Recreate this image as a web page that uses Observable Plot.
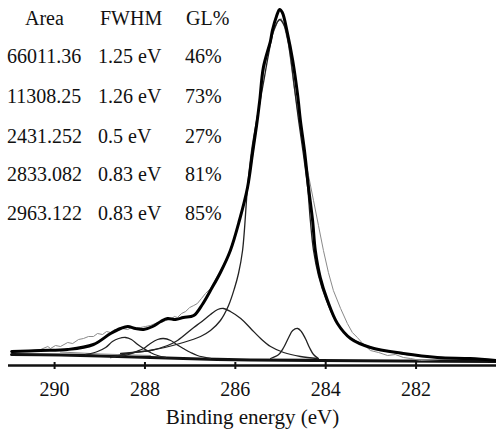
<!DOCTYPE html>
<html><head><meta charset="utf-8">
<script src="https://cdn.jsdelivr.net/npm/d3@7"></script>
<script src="https://cdn.jsdelivr.net/npm/@observablehq/plot@0.6"></script>
<style>
body{margin:0;background:#fff;}
#wrap{position:relative;width:496px;height:431px;font-family:"Liberation Serif","DejaVu Serif",serif;}
.cell{position:absolute;font-size:20px;line-height:20px;white-space:nowrap;color:#111;}
#wrap svg text{font-family:"Liberation Serif","DejaVu Serif",serif;}
</style></head><body><div id="wrap"></div>
<script>
// ---- table (fit parameters) ----
const tableHeader = ["Area", "FWHM", "GL%"];
const areas = ["66011.36", "11308.25", "2431.252", "2833.082", "2963.122"];
const fwhm = ["1.25 eV", "1.26 eV", "0.5 eV", "0.83 eV", "0.83 eV"];
const gl = ["46%", "73%", "27%", "81%", "85%"];

// ---- axis ----
const xTicks = [290, 288, 286, 284, 282];
const xLabel = "Binding energy (eV)";

// ---- series: [binding energy (eV), intensity (a.u.)] ----
const measured = [[290.95,13],[290.31,16],[290.15,19],[290.09,17],[289.98,20],[289.87,19],[289.71,23],[289.60,22],[289.47,26],[289.36,27],[289.25,29],[289.14,29],[289.05,32],[288.94,31],[288.85,34],[288.76,33],[288.67,36],[288.58,35],[288.50,37],[288.38,36],[288.30,38],[288.21,37],[288.10,38],[287.99,39],[287.88,40],[287.77,42],[287.65,43],[287.54,45],[287.43,46],[287.35,49],[287.28,48],[287.19,52],[287.10,54],[287.01,58],[286.92,60],[286.84,62],[286.75,67],[286.66,72],[286.55,77],[286.33,95],[286.11,114],[285.91,144],[285.73,176],[285.62,208],[285.53,238],[285.46,262],[285.38,292],[285.27,318],[285.15,334],[285.07,343],[284.99,347],[284.93,342],[284.82,320],[284.71,282],[284.60,248],[284.49,215],[284.38,190],[284.27,165],[284.16,140],[284.05,115],[283.94,93],[283.83,75],[283.67,57],[283.52,42],[283.41,33],[283.30,28],[283.16,21],[283.01,15],[282.83,13],[282.63,10],[282.46,11],[282.28,8],[282.12,7],[281.90,5],[281.46,6],[280.86,7]];

const envelope = [[290.95,14],[290.31,15],[289.71,16],[289.14,21],[288.76,32],[288.54,37],[288.38,39],[288.21,37],[288.03,36],[287.83,39],[287.65,44],[287.50,47],[287.32,46],[287.15,48],[286.92,50],[286.73,61],[286.55,75],[286.33,93],[286.11,115],[285.91,145],[285.73,178],[285.62,212],[285.53,240],[285.46,265],[285.38,298],[285.22,325],[285.18,335],[285.09,349],[285.02,356],[284.96,353],[284.85,333],[284.73,305],[284.62,270],[284.56,245],[284.47,215],[284.38,178],[284.29,145],[284.23,115],[284.12,88],[283.96,65],[283.74,42],[283.45,27],[283.01,18],[282.28,12],[281.53,8],[280.80,7],[280.22,5]];

const peakC1 = [[288.54,12],[287.88,15],[287.15,23],[286.77,29],[286.55,35],[286.33,45],[286.15,60],[286.02,77],[285.93,92],[285.84,115],[285.73,178],[285.64,215],[285.55,240],[285.38,282],[285.27,310],[285.15,335],[285.02,346],[284.91,339],[284.80,315],[284.69,277],[284.60,245],[284.49,210],[284.40,178],[284.34,145],[284.27,115],[284.16,90],[284.00,67],[283.78,45],[283.50,29],[283.05,19],[282.35,12],[281.46,8],[280.22,5]];

const peakC2 = [[288.76,8],[288.25,13],[287.88,15],[287.50,20],[287.28,25],[286.92,38],[286.77,43],[286.55,51],[286.39,56],[286.26,57],[286.11,54],[285.88,47],[285.66,37],[285.44,27],[285.22,19],[284.93,13],[284.56,9],[284.18,7]];

const peakC3 = [[285.22,7],[285.04,11],[284.93,18],[284.82,28],[284.73,35],[284.62,37],[284.54,34],[284.45,27],[284.36,18],[284.27,11],[284.16,7]];

const peakC4 = [[289.31,11],[289.05,14],[288.87,18],[288.72,24],[288.58,27],[288.43,28],[288.30,26],[288.16,21],[288.03,17],[287.88,13],[287.72,10],[287.54,8]];

const peakC5 = [[288.54,9],[288.36,11],[288.19,14],[288.03,17],[287.88,22],[287.72,26],[287.59,27],[287.43,25],[287.30,21],[287.15,17],[286.99,13],[286.84,10],[286.55,7]];

const background = [[290.95,11],[289.87,10.5],[288.98,9.5],[287.88,8],[286.77,6.5],[285.66,5.5],[284.12,5],[282.35,4.5],[280.22,4]];
const componentBackground = [[289.87,13.5],[288.98,11.5],[287.88,10]];

const toRows = a => a.map(([e, i]) => ({e, i}));

const chart = Plot.plot({
  width: 496,
  height: 431,
  marginLeft: 8,
  marginRight: 0,
  marginTop: 9,
  marginBottom: 66,
  style: {fontFamily: "'Liberation Serif','DejaVu Serif',serif", fontSize: "20px", color: "#111", background: "transparent", overflow: "visible"},
  x: {domain: [291.02, 280.22], label: null},
  y: {domain: [0, 356], axis: null},
  marks: [
    Plot.ruleY([0], {stroke: "#111", strokeWidth: 2.5}),
    Plot.line(toRows(background), {x: "e", y: "i", stroke: "#111", strokeWidth: 3.2, curve: "catmull-rom"}),
    Plot.line(toRows(componentBackground), {x: "e", y: "i", stroke: "#888", strokeWidth: 1.2}),
    Plot.line(toRows(measured), {x: "e", y: "i", stroke: "#8a8a8a", strokeWidth: 1}),
    Plot.line(toRows(peakC2), {x: "e", y: "i", stroke: "#222", strokeWidth: 1.3, curve: "catmull-rom"}),
    Plot.line(toRows(peakC3), {x: "e", y: "i", stroke: "#222", strokeWidth: 1.3, curve: "catmull-rom"}),
    Plot.line(toRows(peakC4), {x: "e", y: "i", stroke: "#222", strokeWidth: 1.3, curve: "catmull-rom"}),
    Plot.line(toRows(peakC5), {x: "e", y: "i", stroke: "#222", strokeWidth: 1.3, curve: "catmull-rom"}),
    Plot.line(toRows(peakC1), {x: "e", y: "i", stroke: "#222", strokeWidth: 1.3, curve: "catmull-rom"}),
    Plot.line(toRows(envelope), {x: "e", y: "i", stroke: "#000", strokeWidth: 3, curve: "catmull-rom"}),
    Plot.axisX({ticks: xTicks, tickFormat: d => String(d), tickSize: 7, dy: -3, tickPadding: 12, strokeWidth: 2, label: null}),
    Plot.text([xLabel], {frameAnchor: "bottom", text: d => d, dy: 58, fontSize: 21, fill: "#111"})
  ]
});

const wrap = document.getElementById("wrap");
wrap.appendChild(chart);

// table overlay
const headerLeft = [25, 100, 186];
const colLeft = [7, 98, 185];
const headerTop = 8;
const rowTops = [46, 86, 126, 164, 203];
tableHeader.forEach((t, j) => {
  const d = document.createElement("div");
  d.className = "cell"; d.textContent = t;
  d.style.left = headerLeft[j] + "px"; d.style.top = headerTop + "px";
  wrap.appendChild(d);
});
const cols = [areas, fwhm, gl];
cols.forEach((col, j) => col.forEach((t, r) => {
  const d = document.createElement("div");
  d.className = "cell"; d.textContent = t;
  d.style.left = colLeft[j] + "px"; d.style.top = rowTops[r] + "px";
  wrap.appendChild(d);
}));
</script>
</body></html>
